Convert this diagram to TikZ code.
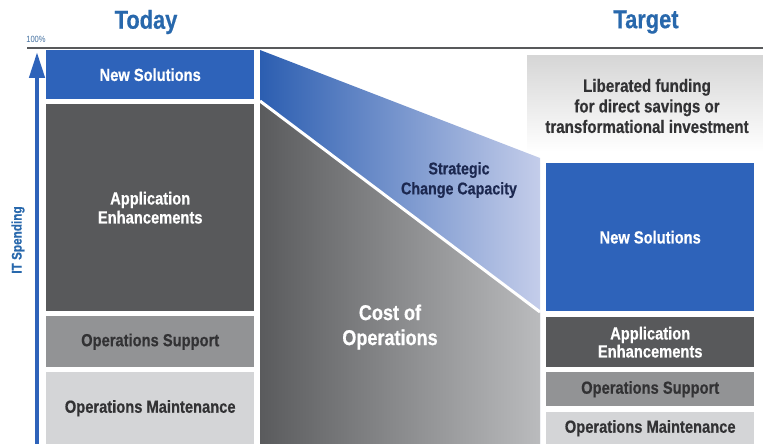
\documentclass[tikz,border=0pt]{standalone}
\usepackage{fontspec}
\setmainfont[FakeStretch=0.84, BoldFeatures={FakeBold=0.5}]{Liberation Sans}
\usetikzlibrary{arrows.meta}
\definecolor{titleblue}{RGB}{40,104,172}
\definecolor{nsblue}{RGB}{46,99,186}
\definecolor{dgray}{RGB}{88,89,91}
\definecolor{mgray}{RGB}{146,147,149}
\definecolor{lgray}{RGB}{212,213,215}
\definecolor{txtdark}{RGB}{50,50,52}
\definecolor{navy}{RGB}{28,40,80}
\tikzset{
  box/.style={anchor=north west, inner sep=0pt, minimum width=208pt, align=center,
    font=\bfseries\fontsize{17.5}{19}\selectfont},
  bluebox/.style={box, fill=nsblue, text=white},
  darkbox/.style={box, fill=dgray, text=white},
  midbox/.style={box, fill=mgray, text=txtdark},
  lightbox/.style={box, fill=lgray, text=txtdark},
  title/.style={font=\bfseries\fontsize{26}{28}\selectfont, text=titleblue},
}
\begin{document}
\begin{tikzpicture}[x=1pt,y=-1pt]
\useasboundingbox (0,0) rectangle (763,444);
% titles
\node[title] (today) at (146,22) {Today};
\node[title] (target) at (646,22) {Target};
\node[font=\fontsize{9}{10}\selectfont, text=titleblue!70!gray] (pct) at (36,39) {100\%};
% top line
\coordinate (tl) at (27,48);
\coordinate (tr) at (763,48);
\draw[line width=1.6pt, draw=dgray] (tl) -- (tr);
% arrow
\coordinate (ab) at (37,444);
\coordinate (at) at (37,52);
\draw[line width=4.5pt, draw=nsblue, -{Triangle[width=15pt,length=26pt]}] (ab) -- (at);
\node[rotate=90, font=\bfseries\fontsize{14}{16}\selectfont, text=titleblue] (its) at (18,240) {IT Spending};
% middle wedges
\shade[left color=nsblue!95!black, right color={rgb,255:red,196;green,205;blue,234}]
  (260,50) -- (540,158) -- (540,444) -- (260,444) -- cycle;
\shade[left color={rgb,255:red,90;green,91;blue,93}, right color={rgb,255:red,186;green,187;blue,189}]
  (260,102) -- (540,313) -- (540,444) -- (260,444) -- cycle;
\coordinate (wl) at (260,101);
\coordinate (wr) at (540,312);
\draw[white, line width=3pt] (wl) -- (wr);
\node[align=center, font=\bfseries\fontsize{17}{20}\selectfont, text=navy] (scc) at (459,180) {Strategic\\Change Capacity};
\node[align=center, font=\bfseries\fontsize{21.5}{25}\selectfont, text=white] (coo) at (390,327) {Cost of\\Operations};
% left column
\node[bluebox, minimum height=49pt] (lns) at (46,50) {New Solutions};
\node[darkbox, minimum height=207pt] (lae) at (46,104) {Application\\Enhancements};
\node[midbox, minimum height=51pt] (los) at (46,316) {Operations Support};
\node[lightbox, minimum height=72pt] (lom) at (46,372) {Operations Maintenance};
% right column
\shade[top color={rgb,255:red,214;green,214;blue,214}, bottom color=white] (527,56) rectangle (763,152);
\node[align=center, font=\bfseries\fontsize{18}{20.5}\selectfont, text=txtdark] (lib) at (647,106) {Liberated funding\\for direct savings or\\transformational investment};
\node[bluebox, minimum height=148pt] (rns) at (546,163) {New Solutions};
\node[darkbox, minimum height=50pt, font=\bfseries\fontsize{17.5}{18}\selectfont] (rae) at (546,317) {Application\\Enhancements};
\node[midbox, minimum height=34pt] (ros) at (546,372) {Operations Support};
\node[lightbox, minimum height=32pt] (rom) at (546,412) {Operations Maintenance};
\end{tikzpicture}
\end{document}
